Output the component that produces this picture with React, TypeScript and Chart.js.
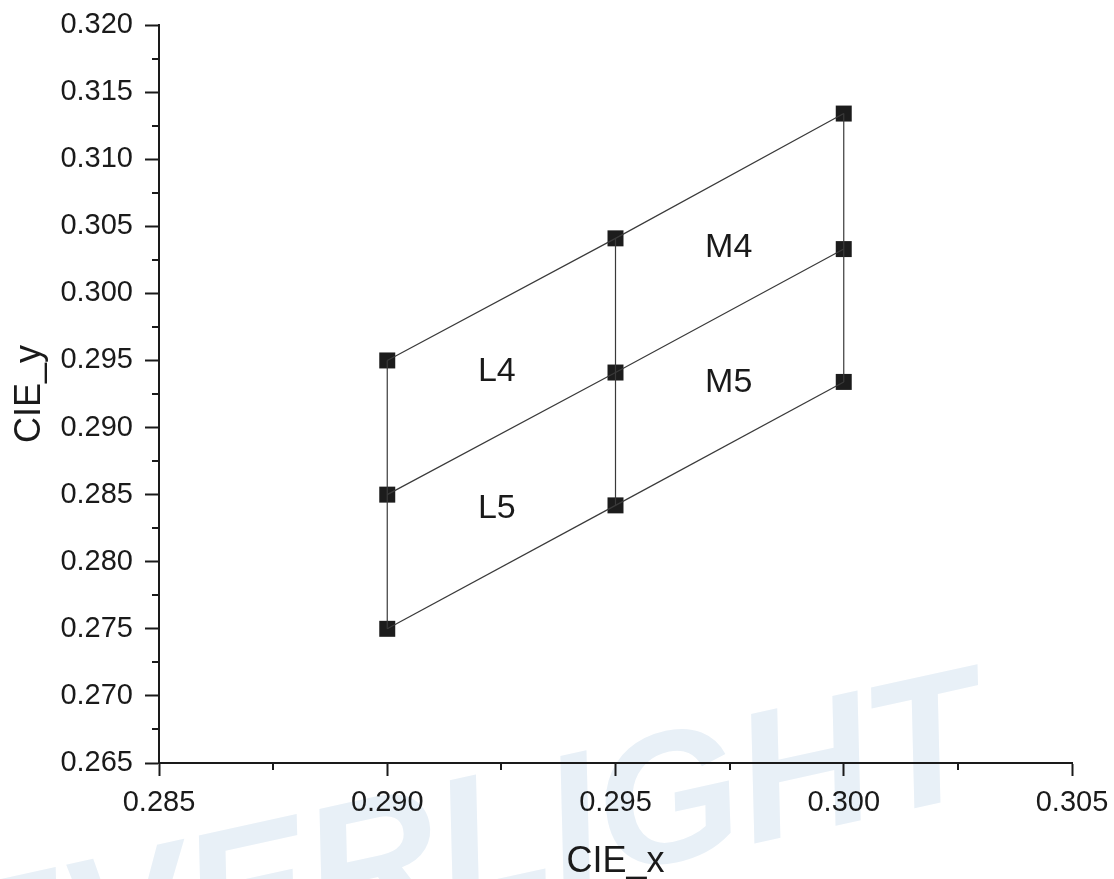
import React, { useEffect, useRef } from 'react';
import { Chart, registerables } from 'chart.js';

Chart.register(...registerables);

// ---- data ----
const xLevels = [0.29, 0.295, 0.3];
const yUpper = [0.295, 0.3041, 0.3134];
const yMiddle = [0.285, 0.2941, 0.3033];
const yLower = [0.275, 0.2842, 0.2934];

const binLabels = ['L4', 'L5', 'M4', 'M5'];
const binLabelX = [0.2924, 0.2924, 0.29748, 0.29748];
const binLabelY = [0.2944, 0.2842, 0.30363, 0.29359];

const xTicks = [0.285, 0.29, 0.295, 0.3, 0.305];
const yTicks = [0.265, 0.27, 0.275, 0.28, 0.285, 0.29, 0.295, 0.3, 0.305, 0.31, 0.315, 0.32];
const xMinorTicks = [0.2875, 0.2925, 0.2975, 0.3025];
const yMinorTicks = [0.2675, 0.2725, 0.2775, 0.2825, 0.2875, 0.2925, 0.2975, 0.3025, 0.3075, 0.3125, 0.3175];

const xTitle = 'CIE_x';
const yTitle = 'CIE_y';
const watermark = 'EVERLIGHT';

const FONT = '"Liberation Sans", Arial, sans-serif';
const INK = '#1a1a1a';

export default function App() {
  const ref = useRef<HTMLCanvasElement>(null);

  useEffect(() => {
    document.body.style.margin = '0';
    const canvas = ref.current;
    if (!canvas) return;

    const lineStyle = {
      showLine: true,
      borderColor: '#3a3a3a',
      borderWidth: 1.2,
      pointRadius: 0,
      pointHoverRadius: 0,
      fill: false,
    };

    const rows = [yUpper, yMiddle, yLower].map((ys) => ({
      data: xLevels.map((x, i) => ({ x, y: ys[i] })),
      ...lineStyle,
    }));
    const columns = xLevels.map((x, i) => ({
      data: [
        { x, y: yUpper[i] },
        { x, y: yMiddle[i] },
        { x, y: yLower[i] },
      ],
      ...lineStyle,
    }));
    const points = {
      data: xLevels.flatMap((x, i) => [yUpper[i], yMiddle[i], yLower[i]].map((y) => ({ x, y }))),
      showLine: false,
      pointStyle: 'rect',
      pointRadius: 11.3,
      pointHoverRadius: 11.3,
      backgroundColor: '#1c1c1c',
      borderWidth: 0,
    };

    const decor = {
      id: 'decor',
      beforeDraw(chart: any) {
        const ctx = chart.ctx;
        ctx.save();
        ctx.translate(475, 905);
        ctx.rotate((-12.4 * Math.PI) / 180);
        ctx.font = `italic bold 185px ${FONT}`;
        ctx.fillStyle = 'rgb(232,240,247)';
        ctx.textAlign = 'center';
        ctx.textBaseline = 'alphabetic';
        ctx.fillText(watermark, 0, 0);
        ctx.restore();
      },
      afterDraw(chart: any) {
        const ctx = chart.ctx;
        const xs = chart.scales.x;
        const ys = chart.scales.y;
        const area = chart.chartArea;
        ctx.save();
        ctx.strokeStyle = INK;
        ctx.lineWidth = 2;
        ctx.beginPath();
        xMinorTicks.forEach((v) => {
          const px = Math.round(xs.getPixelForValue(v));
          ctx.moveTo(px, area.bottom);
          ctx.lineTo(px, area.bottom + 7);
        });
        yMinorTicks.forEach((v) => {
          const py = Math.round(ys.getPixelForValue(v));
          ctx.moveTo(area.left - 7, py);
          ctx.lineTo(area.left, py);
        });
        ctx.stroke();

        // region labels
        ctx.fillStyle = INK;
        ctx.font = `34px ${FONT}`;
        ctx.textAlign = 'center';
        ctx.textBaseline = 'alphabetic';
        binLabels.forEach((t, i) => {
          const px = xs.getPixelForValue(binLabelX[i]);
          const py = ys.getPixelForValue(binLabelY[i]);
          ctx.fillText(t, px, py + (0.716 * 34) / 2);
        });

        // axis titles
        ctx.font = `36px ${FONT}`;
        ctx.fillText(xTitle, (area.left + area.right) / 2, 872);
        ctx.save();
        ctx.translate(40, (area.top + area.bottom) / 2);
        ctx.rotate(-Math.PI / 2);
        ctx.fillText(yTitle, 0, 0);
        ctx.restore();
        ctx.restore();
      },
    };

    const chart = new Chart(canvas, {
      type: 'scatter',
      data: { datasets: [...rows, ...columns, points] as any },
      options: {
        animation: false,
        responsive: false,
        maintainAspectRatio: false,
        layout: { padding: { top: 25, right: 42, left: 0, bottom: 0 } },
        plugins: { legend: { display: false }, tooltip: { enabled: false } },
        scales: {
          x: {
            type: 'linear',
            min: 0.285,
            max: 0.305,
            afterBuildTicks: (s: any) => {
              s.ticks = xTicks.map((v) => ({ value: v }));
            },
            afterFit: (s: any) => {
              s.height = 116;
              s.paddingLeft = 0;
              s.paddingRight = 0;
            },
            ticks: {
              callback: (v: any) => Number(v).toFixed(3),
              font: { family: FONT, size: 29 },
              color: INK,
              padding: 10,
              maxRotation: 0,
              autoSkip: false,
            },
            grid: {
              drawOnChartArea: false,
              drawTicks: true,
              tickLength: 13,
              tickWidth: 2,
              tickColor: INK,
            },
            border: { display: true, color: INK, width: 2 },
          },
          y: {
            type: 'linear',
            min: 0.265,
            max: 0.32,
            afterBuildTicks: (s: any) => {
              s.ticks = yTicks.map((v) => ({ value: v }));
            },
            afterFit: (s: any) => {
              s.width = 159;
              s.paddingTop = 0;
              s.paddingBottom = 0;
            },
            ticks: {
              callback: (v: any) => Number(v).toFixed(3),
              font: { family: FONT, size: 29 },
              color: INK,
              padding: 12,
              autoSkip: false,
            },
            grid: {
              drawOnChartArea: false,
              drawTicks: true,
              tickLength: 14,
              tickWidth: 2,
              tickColor: INK,
            },
            border: { display: true, color: INK, width: 2 },
          },
        },
      },
      plugins: [decor],
    });

    return () => chart.destroy();
  }, []);

  return (
    <div style={{ width: 1114, height: 879 }}>
      <canvas ref={ref} width={1114} height={879} style={{ display: 'block' }} />
    </div>
  );
}
